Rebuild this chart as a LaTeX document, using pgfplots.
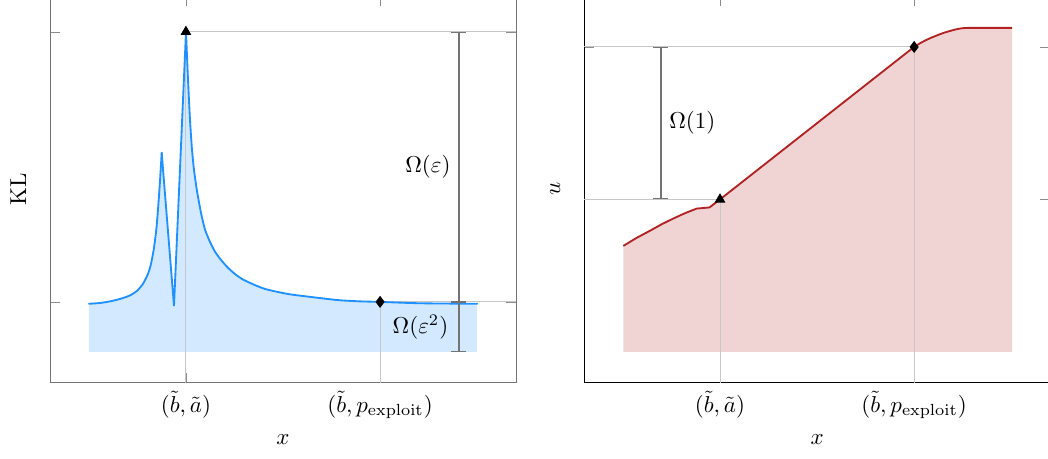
\documentclass[border=0pt]{standalone}
\usepackage{pgfplots}
\pgfplotsset{compat=1.18}
\usetikzlibrary{arrows.meta}
\definecolor{kblue}{RGB}{30,144,255}
\definecolor{kred}{RGB}{178,34,34}
\begin{document}
\begin{tikzpicture}
\useasboundingbox (-21.74pt,-33.04pt) rectangle (433.9pt,166.5pt);
\clip (-21.74pt,-33.04pt) rectangle (433.9pt,166.5pt);
\begin{axis}[at={(0pt,0pt)}, anchor=south west, scale only axis,
  width=202.6pt, height=168.3pt,
  xmin=0, xmax=12, ymin=0, ymax=14.33,
  xtick={3.5,8.5}, xticklabels={{$(\tilde{b},\tilde{a})$},{$(\tilde{b},p_{\mathrm{exploit}})$}},
  ytick={3,13}, yticklabels={},
  xlabel={$x$}, ylabel={KL},
  axis line style={black!55}, major tick style={black!45}, major tick length=4.5pt]
\addplot[draw=none, fill=kblue, fill opacity=0.2] coordinates {
(1.004,2.93)(1.288,2.96)(1.545,3.02)(1.803,3.11)(2.060,3.24)(2.240,3.41)(2.395,3.67)(2.524,4.04)(2.601,4.41)(2.678,5.00)(2.742,5.74)(2.794,6.67)(2.833,7.48)(2.876,8.52)
(3.193,2.85)
(3.502,13.0)(3.554,11.22)(3.605,9.74)(3.657,8.63)(3.708,7.89)(3.785,7.11)(3.888,6.30)(3.991,5.68)(4.120,5.22)(4.249,4.86)(4.378,4.60)(4.558,4.30)(4.764,4.03)(4.970,3.83)(5.279,3.62)(5.536,3.48)(5.794,3.39)(6.180,3.28)(6.618,3.20)(7.082,3.12)(7.468,3.06)(7.983,3.02)(8.500,3.00)(9.53,2.95)(11.0,2.93)
(11.0,1.148)(1.004,1.148)};
\draw[black!22, line width=0.4pt] (axis cs:3.5,13) -- (axis cs:12,13);
\draw[black!22, line width=0.4pt] (axis cs:8.5,3) -- (axis cs:12,3);
\draw[black!22, line width=0.4pt] (axis cs:3.5,0) -- (axis cs:3.5,13);
\draw[black!22, line width=0.4pt] (axis cs:8.5,0) -- (axis cs:8.5,3);
\addplot[kblue, thick, smooth, tension=0.4, line cap=round] coordinates {
(1.004,2.93)(1.288,2.96)(1.545,3.02)(1.803,3.11)(2.060,3.24)(2.240,3.41)(2.395,3.67)(2.524,4.04)(2.601,4.41)(2.678,5.00)(2.742,5.74)(2.794,6.67)(2.833,7.48)(2.876,8.52)};
\addplot[kblue, thick, line join=miter, line cap=round] coordinates {
(2.876,8.52)(3.193,2.85)(3.502,13.0)};
\addplot[kblue, thick, smooth, tension=0.4, line cap=round] coordinates {
(3.502,13.0)(3.554,11.22)(3.605,9.74)(3.657,8.63)(3.708,7.89)(3.785,7.11)(3.888,6.30)(3.991,5.68)(4.120,5.22)(4.249,4.86)(4.378,4.60)(4.558,4.30)(4.764,4.03)(4.970,3.83)(5.279,3.62)(5.536,3.48)(5.794,3.39)(6.180,3.28)(6.618,3.20)(7.082,3.12)(7.468,3.06)(7.983,3.02)(8.500,3.00)(9.53,2.95)(11.0,2.93)};
\addplot[only marks, mark=triangle*, mark size=2.3pt, black] coordinates {(3.5,13)};
\addplot[only marks, mark=diamond*, mark size=2.3pt, black] coordinates {(8.5,3)};
\draw[black!55, line width=0.6pt, {Bar[width=6.5pt]}-{Bar[width=6.5pt]}] (axis cs:10.53,13) -- node[left, text=black] {$\Omega(\varepsilon)$} (axis cs:10.53,3);
\draw[black!55, line width=0.6pt, {Bar[width=6.5pt]}-{Bar[width=6.5pt]}] (axis cs:10.53,3) -- node[left, text=black, xshift=-1pt] {$\Omega(\varepsilon^2)$} (axis cs:10.53,1.148);
\end{axis}
\begin{axis}[at={(232.2pt,0pt)}, anchor=south west, scale only axis,
  width=202.6pt, height=168.3pt,
  xmin=0, xmax=12, ymin=-0.814, ymax=9.34,
  xtick={3.5,8.5}, xticklabels={{$(\tilde{b},\tilde{a})$},{$(\tilde{b},p_{\mathrm{exploit}})$}},
  ytick={4,8}, yticklabels={},
  xlabel={$x$}, ylabel={$u$},
  major tick style={black!45}, major tick length=4.5pt]
\addplot[draw=none, fill=kred, fill opacity=0.2] coordinates {
(1.01,2.78)(1.35,2.99)(1.70,3.18)(2.00,3.35)(2.30,3.50)(2.60,3.64)(2.90,3.76)(3.23,3.79)(3.50,4.00)(8.498,8.00)(8.652,8.097)(8.807,8.181)(8.961,8.252)(9.116,8.315)(9.270,8.373)(9.425,8.420)(9.579,8.462)(9.734,8.491)(9.888,8.50)(11.02,8.50)
(11.02,0)(1.01,0)};
\draw[black!22, line width=0.4pt] (axis cs:0,8) -- (axis cs:8.5,8);
\draw[black!22, line width=0.4pt] (axis cs:0,4) -- (axis cs:3.5,4);
\draw[black!22, line width=0.4pt] (axis cs:3.5,-0.814) -- (axis cs:3.5,4);
\draw[black!22, line width=0.4pt] (axis cs:8.5,-0.814) -- (axis cs:8.5,8);
\addplot[kred, thick, line join=round] coordinates {
(1.01,2.78)(1.35,2.99)(1.70,3.18)(2.00,3.35)(2.30,3.50)(2.60,3.64)(2.90,3.76)(3.23,3.79)(3.50,4.00)(8.498,8.00)(8.652,8.097)(8.807,8.181)(8.961,8.252)(9.116,8.315)(9.270,8.373)(9.425,8.420)(9.579,8.462)(9.734,8.491)(9.888,8.50)(11.02,8.50)};
\addplot[only marks, mark=triangle*, mark size=2.3pt, black] coordinates {(3.5,4)};
\addplot[only marks, mark=diamond*, mark size=2.3pt, black] coordinates {(8.5,8)};
\draw[black!55, line width=0.6pt, {Bar[width=6.5pt]}-{Bar[width=6.5pt]}] (axis cs:1.98,8) -- node[right, text=black] {$\Omega(1)$} (axis cs:1.98,4);
\end{axis}
\end{tikzpicture}
\end{document}
